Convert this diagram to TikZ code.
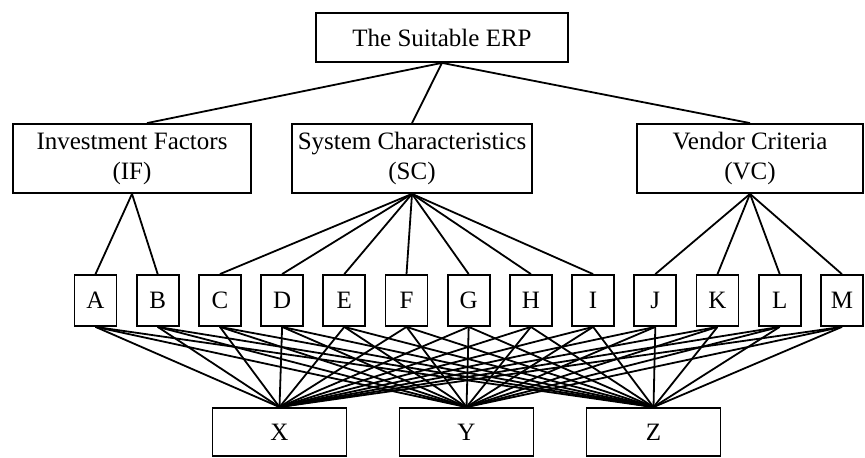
\documentclass[tikz,border=0pt]{standalone}
\usepackage{fontspec}
\setmainfont{Liberation Serif}
\usepackage{tikz}
\usetikzlibrary{calc}
\tikzset{
	crit/.style={draw,inner sep=0pt,align=center},
	leaf/.style={draw,inner sep=0pt,minimum width=21pt,minimum height=25.5pt},
	alt/.style={draw,inner sep=0pt,minimum width=67pt,minimum height=24pt}
}

\begin{document}
\begin{tikzpicture}[x=0.5pt,y=-0.5pt,font=\fontsize{12.5}{15}\selectfont,line width=0.9pt]
	\useasboundingbox (0,0) rectangle (865,458);
	% goal and criteria
	\node[crit,minimum width=126pt,minimum height=24.5pt] (erp) at (442,37.5) {The Suitable ERP};
	\node[crit,minimum width=119pt,minimum height=34.5pt] (IF) at (132,158.5) {Investment Factors\\(IF)};
	\node[crit,minimum width=120pt,minimum height=34.5pt] (SC) at (412,158.5) {System Characteristics\\(SC)};
	\node[crit,minimum width=113pt,minimum height=34.5pt] (VC) at (750,158.5) {Vendor Criteria\\(VC)};
	\draw ($(IF.north)+(15,0)$) -- (erp.south) -- (SC.north);
	\draw (erp.south) -- (VC.north);
	% sub-criteria
	\foreach \l/\p [count=\i from 0] in {A/IF,B/IF,C/SC,D/SC,E/SC,F/SC,G/SC,H/SC,I/SC,J/VC,K/VC,L/VC,M/VC} {
		\node[leaf] (\l) at (95.5+62.2*\i,300.5) {\l};
		\draw (\p.south) -- (\l.north);
	}
	% alternatives
	\node[alt] (X) at (279.5,432) {X};
	\node[alt] (Y) at (466.5,432) {Y};
	\node[alt] (Z) at (653.5,432) {Z};
	\foreach \l in {A,B,C,D,E,F,G,H,I,J,K,L,M}
		\foreach \a in {X,Y,Z}
			\draw (\l.south) -- (\a.north);
\end{tikzpicture}
\end{document}
